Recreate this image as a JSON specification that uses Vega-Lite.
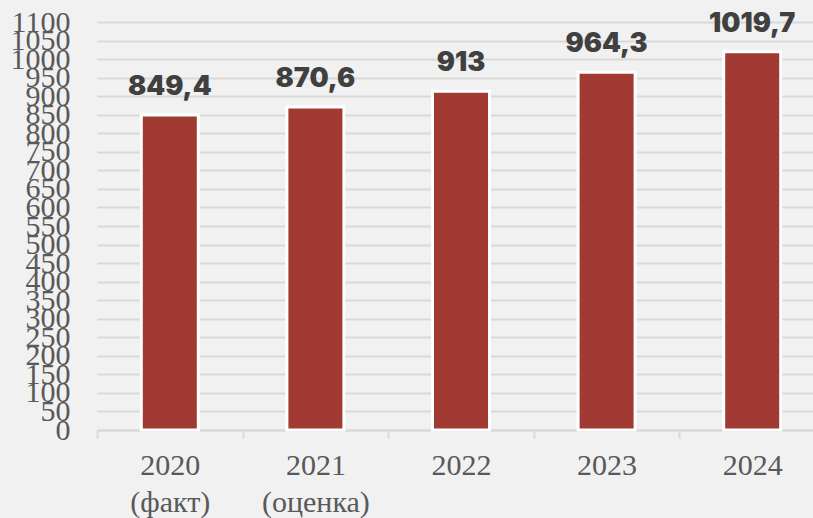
{
  "$schema": "https://vega.github.io/schema/vega-lite/v6.json",
  "autosize": "none",
  "width": 716,
  "height": 408,
  "padding": {"left": 97, "top": 22, "right": 0, "bottom": 88},
  "background": "#f1f1f1",
  "config": {"view": {"stroke": null}},
  "data": {"values": [
    {"year": "2020|(факт)", "value": 849.4, "label": "849,4"},
    {"year": "2021|(оценка)", "value": 870.6, "label": "870,6"},
    {"year": "2022", "value": 913, "label": "913"},
    {"year": "2023", "value": 964.3, "label": "964,3"},
    {"year": "2024", "value": 1019.7, "label": "1019,7"}
  ]},
  "encoding": {
    "x": {"field": "year", "type": "nominal", "sort": null,
      "scale": {"range": [0, 728], "paddingInner": 0, "paddingOuter": 0},
      "axis": {"title": null, "labelAngle": 0, "labelExpr": "split(datum.label, '|')",
        "labelFont": "Liberation Serif", "labelFontSize": 30, "labelColor": "#595959",
        "labelLineHeight": 37, "labelPadding": 12, "labelBaseline": "top",
        "domainColor": "#d9d9d9", "domainWidth": 2, "tickColor": "#d9d9d9", "tickWidth": 2,
        "tickSize": 8, "tickBand": "extent", "grid": false}},
    "y": {"field": "value", "type": "quantitative",
      "scale": {"domain": [0, 1100], "nice": false},
      "axis": {"title": null, "format": "d", "values": [0,50,100,150,200,250,300,350,400,450,500,550,600,650,700,750,800,850,900,950,1000,1050,1100],
        "labelOverlap": false, "labelFlush": false, "labelFont": "Liberation Serif", "labelFontSize": 30,
        "labelColor": "#595959", "labelPadding": 27, "ticks": false, "domain": false,
        "gridColor": "#d9d9d9", "gridWidth": 2}}
  },
  "layer": [
    {"mark": {"type": "bar", "size": 57, "color": "#a03a33", "stroke": "white", "strokeWidth": 3}},
    {"mark": {"type": "text", "dy": -20, "baseline": "alphabetic", "font": "Inter", "fontWeight": 900, "fontSize": 27, "color": "#404040"},
      "encoding": {"text": {"field": "label"}}}
  ]
}
